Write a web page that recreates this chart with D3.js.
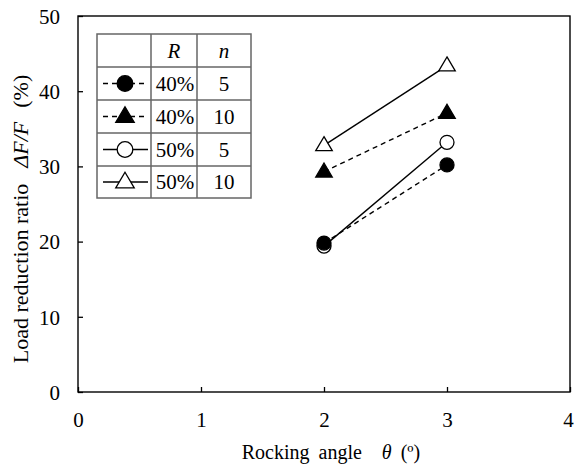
<!DOCTYPE html>
<html><head><meta charset="utf-8">
<script src="https://cdn.jsdelivr.net/npm/d3@7"></script>
<style>body{margin:0;background:#fff}svg{display:block}svg text{font-family:'Liberation Serif','Times New Roman',Times,serif}</style>
</head><body><svg id="c" width="574" height="468"></svg>
<script>
const angles = [2, 3];
const xTicks = [0, 1, 2, 3, 4];
const yTicks = [0, 10, 20, 30, 40, 50];
const seriesR = ["40%", "40%", "50%", "50%"];
const seriesN = ["5", "10", "5", "10"];
const seriesShape = ["circle", "triangle", "circle", "triangle"];
const seriesFilled = [true, true, false, false];
const seriesDashed = [true, true, false, false];
const valsR40n5 = [19.8, 30.2];
const valsR40n10 = [29.3, 37.1];
const valsR50n5 = [19.4, 33.2];
const valsR50n10 = [32.8, 43.4];
const allVals = [valsR40n5, valsR40n10, valsR50n5, valsR50n10];

const FF = "'Liberation Serif','Times New Roman',Times,serif";
const svg = d3.select("#c");
const L = 78, R = 570, T = 16, B = 392;
const x = d3.scaleLinear().domain([0, 4]).range([L, R]);
const y = d3.scaleLinear().domain([0, 50]).range([B, T]);

svg.append("rect").attr("x", L).attr("y", T).attr("width", R - L).attr("height", B - T)
  .attr("fill", "none").attr("stroke", "#000").attr("stroke-width", 1.4);

const xa = svg.append("g").attr("transform", `translate(0,${B})`)
  .call(d3.axisBottom(x).tickValues(xTicks).tickSizeInner(-5).tickSizeOuter(0).tickPadding(20).tickFormat(d3.format("d")));
const ya = svg.append("g").attr("transform", `translate(${L},0)`)
  .call(d3.axisLeft(y).tickValues(yTicks).tickSizeInner(-5).tickSizeOuter(0).tickPadding(18).tickFormat(d3.format("d")));
[xa, ya].forEach(a => {
  a.attr("font-family", FF).attr("font-size", 21);
  a.select(".domain").remove();
  a.selectAll("line").attr("stroke", "#000").attr("stroke-width", 1.3);
  a.selectAll("text").attr("fill", "#000").attr("font-size", 21);
});
ya.selectAll("text").attr("dy", "0.35em");
xa.selectAll("text").filter(d => d === 4).attr("dx", -2);

// axis titles
const xt = svg.append("text").attr("x", 331).attr("y", 459).attr("text-anchor", "middle").attr("font-size", 20);
xt.append("tspan").text("Rocking");
xt.append("tspan").attr("dx", 9).text("angle");
xt.append("tspan").attr("dx", 20).attr("font-style", "italic").text("θ");
xt.append("tspan").attr("dx", 9).text("(º)");

const yt = svg.append("text").attr("transform", "translate(28,219) rotate(-90)").attr("text-anchor", "middle").attr("font-size", 22);
yt.append("tspan").text("Load reduction ratio");
yt.append("tspan").attr("dx", 16).attr("font-style", "italic").text("ΔF/F");
yt.append("tspan").attr("dx", 14).text("(%)");

function drawMarker(g, shape, filled, cx, cy, s) {
  if (shape === "circle") {
    g.append("circle").attr("cx", cx).attr("cy", cy).attr("r", 7 * s)
      .attr("fill", filled ? "#000" : "#fff").attr("stroke", "#000").attr("stroke-width", 1.3);
  } else {
    const h = 14 * s, w = 16.5 * s;
    g.append("path").attr("d", `M${cx},${cy - h * 0.62}L${cx + w / 2},${cy + h * 0.38}L${cx - w / 2},${cy + h * 0.38}Z`)
      .attr("fill", filled ? "#000" : "#fff").attr("stroke", "#000").attr("stroke-width", 1.3);
  }
}

const line = d3.line().x((d, i) => x(angles[i])).y(d => y(d));
allVals.forEach((vals, k) => {
  svg.append("path").attr("d", line(vals)).attr("fill", "none").attr("stroke", "#000")
    .attr("stroke-width", 1.4).attr("stroke-dasharray", seriesDashed[k] ? "5,4" : null);
});
[2, 3, 0, 1].forEach(k => {
  const g = svg.append("g");
  allVals[k].forEach((v, i) => drawMarker(g, seriesShape[k], seriesFilled[k], x(angles[i]), y(v), 1));
});

// legend table
const tx0 = 97, tx1 = 151, tx2 = 197, tx3 = 251;
const rowsY = [34, 67, 100, 133, 166, 198];
const tg = svg.append("g").attr("font-size", 21);
const gridC = "#666";
tg.append("rect").attr("x", tx0).attr("y", rowsY[0]).attr("width", tx3 - tx0).attr("height", rowsY[5] - rowsY[0])
  .attr("fill", "#fff").attr("stroke", gridC).attr("stroke-width", 1.5);
[tx1, tx2].forEach(xx => tg.append("line").attr("x1", xx).attr("x2", xx).attr("y1", rowsY[0]).attr("y2", rowsY[5]).attr("stroke", gridC).attr("stroke-width", 1.5));
rowsY.slice(1, 5).forEach(yy => tg.append("line").attr("x1", tx0).attr("x2", tx3).attr("y1", yy).attr("y2", yy).attr("stroke", gridC).attr("stroke-width", 1.5));
const hy = (rowsY[0] + rowsY[1]) / 2 + 7;
tg.append("text").attr("x", (tx1 + tx2) / 2).attr("y", hy).attr("text-anchor", "middle").attr("font-style", "italic").text("R");
tg.append("text").attr("x", (tx2 + tx3) / 2).attr("y", hy).attr("text-anchor", "middle").attr("font-style", "italic").text("n");
seriesR.forEach((r, k) => {
  const cy = (rowsY[k + 1] + rowsY[k + 2]) / 2;
  tg.append("line").attr("x1", tx0 + 6).attr("x2", tx1 - 3).attr("y1", cy).attr("y2", cy)
    .attr("stroke", "#000").attr("stroke-width", 1.4).attr("stroke-dasharray", seriesDashed[k] ? "5,4" : null);
  drawMarker(tg, seriesShape[k], seriesFilled[k], (tx0 + tx1) / 2 + 1, cy, 1.12);
  tg.append("text").attr("x", (tx1 + tx2) / 2 + 1).attr("y", cy + 7).attr("text-anchor", "middle").text(r);
  tg.append("text").attr("x", (tx2 + tx3) / 2).attr("y", cy + 7).attr("text-anchor", "middle").text(seriesN[k]);
});
</script></body></html>
